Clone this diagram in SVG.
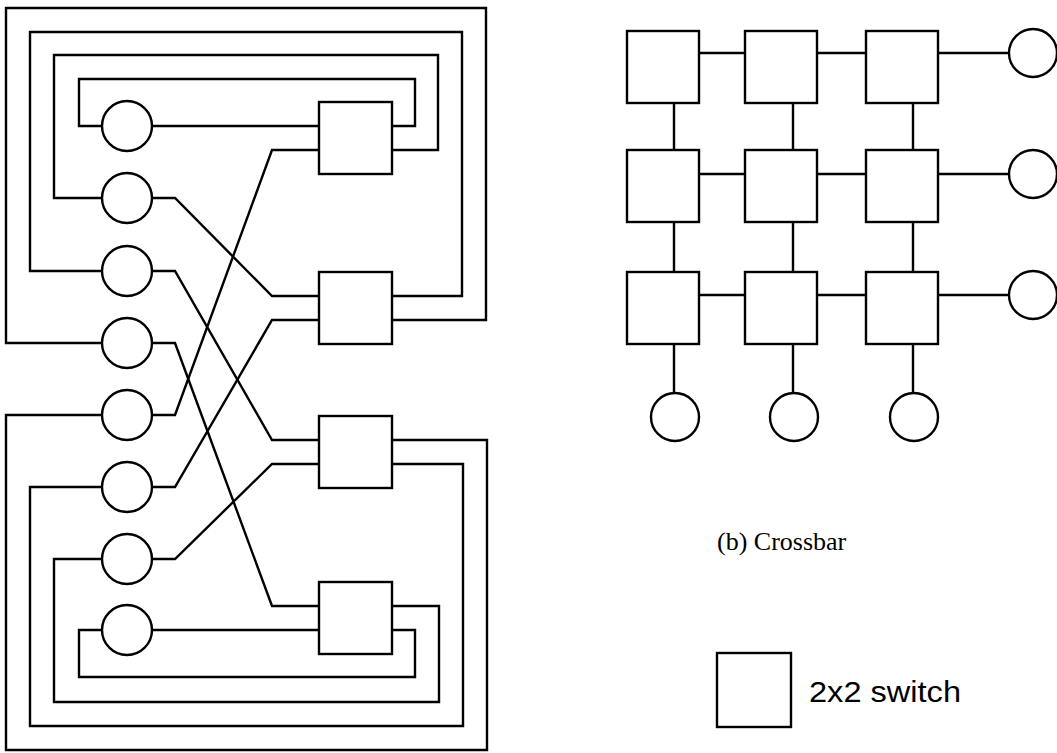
<svg xmlns="http://www.w3.org/2000/svg" width="1057" height="753" viewBox="0 0 1057 753">
<style>
.w{fill:none;stroke:#000;stroke-width:2.4;stroke-linejoin:miter}
.n{fill:#fff;stroke:#000;stroke-width:2.4}
.t{font-family:"Liberation Serif",serif;font-size:26px;fill:#000}
.s{font-family:"Liberation Sans",sans-serif;font-size:30px;fill:#000}
</style>
<rect width="1057" height="753" fill="#fff"/>
<g id="connectors">
<path class="w" d="M152,126 H319"/>
<path class="w" d="M102,126 H79 V79 H415 V126 H392"/>
<path class="w" d="M152,198 H175 L272,296 H319"/>
<path class="w" d="M102,198 H54 V55 H438 V150 H392"/>
<path class="w" d="M152,271 H175 L272,440 H319"/>
<path class="w" d="M102,271 H30 V32 H462 V296 H392"/>
<path class="w" d="M152,343 H175 L272,606 H319"/>
<path class="w" d="M102,343 H6 V8 H486 V320 H392"/>
<path class="w" d="M152,415 H175 L272,150 H319"/>
<path class="w" d="M102,415 H6 V750 H487 V440 H392"/>
<path class="w" d="M152,487 H175 L272,320 H319"/>
<path class="w" d="M102,487 H30 V726 H463 V464 H392"/>
<path class="w" d="M152,559 H175 L272,464 H319"/>
<path class="w" d="M102,559 H54 V702 H439 V606 H392"/>
<path class="w" d="M152,630 H319"/>
<path class="w" d="M102,630 H79 V677 H415 V630 H392"/>
<path class="w" d="M699,53 H745 M817,53 H866 M938,53 H1009"/>
<path class="w" d="M699,174 H745 M817,174 H866 M938,174 H1009"/>
<path class="w" d="M699,295 H745 M817,295 H866 M938,295 H1009"/>
<path class="w" d="M674,103 V150 M674,222 V272 M674,344 V393"/>
<path class="w" d="M793,103 V150 M793,222 V272 M793,344 V393"/>
<path class="w" d="M913,103 V150 M913,222 V272 M913,344 V393"/>
</g>
<g id="omega-nodes">
<circle id="p1" class="n" cx="127" cy="126" r="25"/>
<circle id="p2" class="n" cx="127" cy="198" r="25"/>
<circle id="p3" class="n" cx="127" cy="271" r="25"/>
<circle id="p4" class="n" cx="127" cy="343" r="25"/>
<circle id="p5" class="n" cx="127" cy="415" r="25"/>
<circle id="p6" class="n" cx="127" cy="487" r="25"/>
<circle id="p7" class="n" cx="127" cy="559" r="25"/>
<circle id="p8" class="n" cx="127" cy="630" r="25"/>
<rect id="s1" class="n" x="319" y="102" width="73" height="72"/>
<rect id="s2" class="n" x="319" y="272" width="73" height="72"/>
<rect id="s3" class="n" x="319" y="416" width="73" height="72"/>
<rect id="s4" class="n" x="319" y="582" width="73" height="72"/>
</g>
<g id="crossbar-nodes">
<rect id="x11" class="n" x="627" y="31" width="72" height="72"/>
<rect id="x12" class="n" x="745" y="31" width="72" height="72"/>
<rect id="x13" class="n" x="866" y="31" width="72" height="72"/>
<rect id="x21" class="n" x="627" y="150" width="72" height="72"/>
<rect id="x22" class="n" x="745" y="150" width="72" height="72"/>
<rect id="x23" class="n" x="866" y="150" width="72" height="72"/>
<rect id="x31" class="n" x="627" y="272" width="72" height="72"/>
<rect id="x32" class="n" x="745" y="272" width="72" height="72"/>
<rect id="x33" class="n" x="866" y="272" width="72" height="72"/>
<circle id="r1" class="n" cx="1033" cy="53" r="24"/>
<circle id="r2" class="n" cx="1033" cy="174" r="24"/>
<circle id="r3" class="n" cx="1033" cy="295" r="24"/>
<circle id="b1" class="n" cx="675" cy="417" r="24"/>
<circle id="b2" class="n" cx="794" cy="417" r="24"/>
<circle id="b3" class="n" cx="914" cy="417" r="24"/>
</g>
<g id="caption">
<text class="t" x="717" y="550">(b) Crossbar</text>
</g>
<g id="legend">
<rect class="n" x="717" y="653" width="74" height="74"/>
<text class="s" x="809" y="702" textLength="152" lengthAdjust="spacingAndGlyphs">2x2 switch</text>
</g>
</svg>
